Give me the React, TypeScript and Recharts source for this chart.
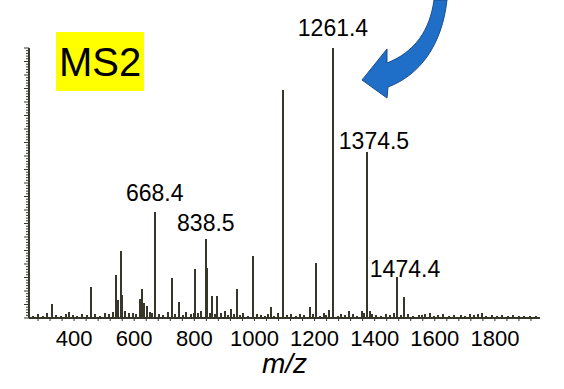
import { ComposedChart, Bar, XAxis, YAxis, LabelList } from "recharts";

// labelled peaks (m/z, relative intensity %)
const labeledMz = [668.4, 838.5, 1261.4, 1374.5, 1474.4];
const labeledIntensity = [39.1, 29.1, 100, 61.6, 15.3];
const labeledText = ["668.4", "838.5", "1261.4", "1374.5", "1474.4"];

// other visible fragment peaks
const peakMz = [325, 384, 458, 538, 546, 556, 560, 619, 627, 632, 641, 726, 748, 803, 811, 822, 842, 858, 877, 921, 941, 994, 1054, 1094, 1184, 1206, 1247, 1263, 1316, 1357, 1376, 1383, 1499, 1546, 1584, 1686, 1756];
const peakIntensity = [5.2, 2.3, 11.5, 15.8, 6.7, 24.9, 8.5, 7.0, 10.6, 5.5, 4.3, 14.8, 6.0, 18.1, 2.0, 2.6, 18.4, 8.2, 8.1, 3.3, 10.6, 23.1, 4.0, 84.4, 4.0, 20.2, 3.0, 27.0, 2.6, 2.6, 49.0, 2.5, 7.9, 1.2, 2.0, 1.2, 2.0];

// baseline noise
const noiseMz = [262, 281, 297, 309, 341, 356, 372, 397, 411, 428, 442, 470, 486, 503, 517, 529, 571, 584, 596, 607, 651, 659, 684, 697, 711, 737, 761, 774, 789, 798, 853, 868, 889, 903, 912, 931, 952, 963, 978, 1008, 1021, 1036, 1046, 1066, 1079, 1108, 1121, 1137, 1152, 1166, 1196, 1219, 1231, 1239, 1277, 1288, 1301, 1329, 1341, 1366, 1392, 1406, 1421, 1437, 1452, 1463, 1487, 1511, 1526, 1557, 1569, 1596, 1611, 1628, 1646, 1663, 1702, 1718, 1731, 1744, 1771, 1789, 1806, 1823, 1842, 1861, 1879, 1898, 1917, 1936];
const noiseIntensity = [0.9, 1.4, 0.7, 1.8, 1.2, 0.8, 1.5, 1.1, 0.6, 1.3, 1.0, 1.6, 0.9, 1.9, 1.3, 2.2, 2.6, 1.7, 2.0, 1.5, 2.4, 1.8, 1.6, 1.2, 2.1, 1.4, 1.1, 2.3, 1.5, 1.9, 2.0, 1.4, 1.7, 2.5, 1.2, 1.6, 1.0, 1.8, 0.9, 1.3, 1.1, 0.8, 1.5, 0.9, 1.7, 1.2, 1.6, 0.8, 1.3, 1.0, 1.4, 0.9, 1.8, 1.2, 0.7, 1.5, 1.0, 1.3, 0.8, 1.9, 1.6, 1.1, 0.9, 1.4, 1.2, 1.8, 1.0, 1.5, 0.8, 1.1, 1.3, 0.7, 1.0, 1.6, 0.9, 1.2, 0.8, 1.4, 1.1, 1.5, 0.9, 1.2, 0.7, 1.0, 0.8, 1.1, 0.6, 0.9, 0.7, 0.8];

const xTickLabels = [400, 600, 800, 1000, 1200, 1400, 1600, 1800];

const ink = "#36362a";
const font = "'Liberation Sans', Arial, sans-serif";

// where each peak label sits relative to its stick (dx from centre, gap above top)
const labelPlacement: Record<string, { dx: number; gap: number }> = {
  "668.4": { dx: 0, gap: 11 },
  "838.5": { dx: 0, gap: 8 },
  "1261.4": { dx: 0, gap: 12 },
  "1374.5": { dx: 7, gap: 3 },
  "1474.4": { dx: 8, gap: 0 },
};

const data = [
  ...noiseMz.map((mz, i) => ({ mz, intensity: noiseIntensity[i] })),
  ...peakMz.map((mz, i) => ({ mz, intensity: peakIntensity[i] })),
  ...labeledMz.map((mz, i) => ({ mz, intensity: labeledIntensity[i], label: labeledText[i] })),
].sort((a, b) => a.mz - b.mz);

const xTicks: number[] = [];
for (let v = 280; v <= 1920; v += 40) xTicks.push(v);
const yTicks: number[] = [];
for (let v = 0; v <= 100; v += 1) yTicks.push(v);

const XTick = (props: any) => {
  const { x, y, payload } = props;
  const showLabel = xTickLabels.includes(payload.value);
  return (
    <g>
      <line x1={x} x2={x} y1={y} y2={y + 3} stroke={ink} strokeWidth={1} />
      {showLabel && (
        <text x={x} y={y + 28} textAnchor="middle" fontSize={22} fontFamily={font} fill="#000">
          {payload.value}
        </text>
      )}
    </g>
  );
};

const YTick = (props: any) => {
  const { x, y, payload } = props;
  const len = payload.value % 5 === 0 ? 5 : 3;
  return <line x1={x - len} x2={x} y1={y} y2={y} stroke={ink} strokeWidth={1} />;
};

// draw each peak as a crisp 2px stick centred on its m/z
const Stick = (props: any) => {
  const { x, y, width, height } = props;
  if (height == null || height <= 0) return null;
  const cx = Math.round(x + width / 2);
  return <rect x={cx - 1} y={y} width={2} height={height} fill={ink} shapeRendering="crispEdges" />;
};

const PeakLabel = (props: any) => {
  const { x, y, width, value } = props;
  if (!value) return null;
  const p = labelPlacement[value] || { dx: 0, gap: 6 };
  return (
    <text x={x + width / 2 + p.dx} y={y - p.gap} textAnchor="middle" fontSize={23} fontFamily={font} fill="#000">
      {value}
    </text>
  );
};

export default function App() {
  return (
    <div style={{ position: "absolute", left: 0, top: 0, width: 564, height: 389, background: "#fff" }}>
      <ComposedChart
        width={564}
        height={389}
        data={data}
        margin={{ top: 48, right: 24, left: 23, bottom: 0 }}
      >
        <XAxis
          dataKey="mz"
          type="number"
          domain={[250, 1950]}
          allowDataOverflow
          ticks={xTicks}
          interval={0}
          tick={<XTick />}
          tickSize={0}
          tickMargin={0}
          height={71}
          axisLine={{ stroke: ink, strokeWidth: 2 }}
          label={{
            value: "m/z",
            position: "insideBottom",
            offset: 16,
            fontSize: 28,
            fontStyle: "italic",
            fontFamily: font,
            fill: "#000",
          }}
        />
        <YAxis
          type="number"
          domain={[0, 100]}
          width={6}
          ticks={yTicks}
          interval={0}
          tick={<YTick />}
          tickSize={0}
          tickMargin={0}
          axisLine={{ stroke: ink, strokeWidth: 2 }}
        />
        <Bar dataKey="intensity" fill={ink} barSize={2} shape={<Stick />} isAnimationActive={false}>
          <LabelList dataKey="label" content={<PeakLabel />} />
        </Bar>
      </ComposedChart>
      <svg
        width={564}
        height={389}
        style={{ position: "absolute", left: 0, top: 0, pointerEvents: "none" }}
      >
        <rect x={56} y={32} width={88} height={59} fill="#ffff00" />
        <text x={100} y={76} textAnchor="middle" fontSize={40} fontFamily={font} fill="#000">
          MS2
        </text>
        <path
          d="M434,0 C430,30 415,52 387,63 L387,49 L362,80 L387,98 L388,87 C420,75 442,45 447,0 Z"
          fill="#1f6fc9"
          stroke="#1d4e8f"
          strokeWidth={1}
        />
      </svg>
    </div>
  );
}
